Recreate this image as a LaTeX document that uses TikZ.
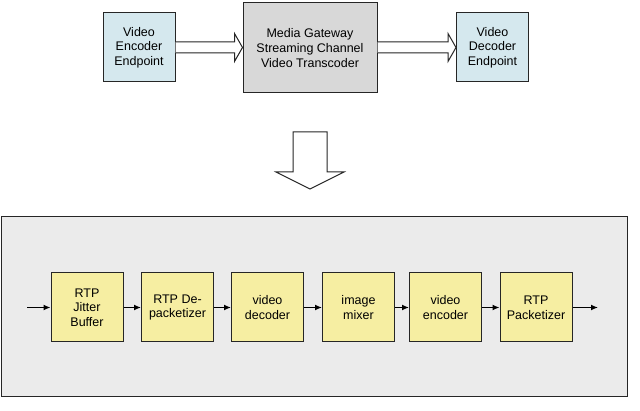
\documentclass[tikz,border=0pt]{standalone}
\usepackage{fontspec}
\setmainfont{Liberation Sans}
\usetikzlibrary{arrows.meta,calc}
\definecolor{boxblue}{HTML}{D5E8EE}
\definecolor{boxgray}{HTML}{D8D8D8}
\definecolor{boxyellow}{HTML}{F6EEA2}
\definecolor{panelgray}{HTML}{EBEBEB}
\tikzset{
  endbox/.style={draw=black!85, line width=1pt, fill=boxblue, minimum width=72pt, minimum height=69pt, inner sep=0pt, align=center, font=\fontsize{12.5}{14.7}\selectfont},
  gwbox/.style={draw=black!85, line width=1pt, fill=boxgray, minimum width=134pt, minimum height=90pt, inner sep=0pt, align=center, font=\fontsize{12.5}{14.7}\selectfont},
  stagebox/.style={draw=black!85, line width=1pt, fill=boxyellow, minimum width=72pt, minimum height=69pt, inner sep=0pt, align=center, font=\fontsize{12.5}{14.7}\selectfont},
  hollow/.style={draw=black!85, line width=1pt, fill=white, line join=miter},
  flow/.style={draw=black, line width=1.3pt, -{Latex[length=7pt,width=6pt]}},
}
\begin{document}
\begin{tikzpicture}[x=1pt,y=-1pt]
\useasboundingbox (0,0) rectangle (640,411);
% top row
\node[endbox] (enc) at (139,47.5) {Video\\Encoder\\Endpoint};
\node[gwbox] (gw) at (310,48) {Media Gateway\\Streaming Channel\\Video Transcoder};
\node[endbox] (dec) at (492.5,47.5) {Video\\Decoder\\Endpoint};
% hollow arrows
\draw[hollow] ($(enc.east)+(0,-5.5)$) -- ($(gw.west|-enc.east)+(-8,-5.5)$) -- ($(gw.west|-enc.east)+(-8,-14)$)
  -- (gw.west|-enc.east) -- ($(gw.west|-enc.east)+(-8,14)$) -- ($(gw.west|-enc.east)+(-8,5.5)$) -- ($(enc.east)+(0,5.5)$);
\draw[hollow] ($(gw.east|-dec.west)+(0,-5.5)$) -- ($(dec.west)+(-8,-5.5)$) -- ($(dec.west)+(-8,-14)$)
  -- (dec.west) -- ($(dec.west)+(-8,14)$) -- ($(dec.west)+(-8,5.5)$) -- ($(gw.east|-dec.west)+(0,5.5)$);
% down arrow
\coordinate (dtop) at (310,132);
\draw[hollow] ($(dtop)+(-17,0)$) -- ($(dtop)+(17,0)$) -- ($(dtop)+(17,40)$) -- ($(dtop)+(34,40)$)
  -- ($(dtop)+(0,57)$) -- ($(dtop)+(-34,40)$) -- ($(dtop)+(-17,40)$) -- cycle;
% panel
\node[draw=black!85, line width=1pt, fill=panelgray, minimum width=626pt, minimum height=180pt, inner sep=0pt] (panel) at (314,307) {};
% stages
\node[stagebox] (s1) at (87,307.5) {RTP\\Jitter\\Buffer};
\node[stagebox] (s2) at (177.5,307.5) {RTP De-\\packetizer};
\node[stagebox] (s3) at (267.5,307.5) {video\\decoder};
\node[stagebox] (s4) at (358.5,307.5) {image\\mixer};
\node[stagebox] (s5) at (445.5,307.5) {video\\encoder};
\node[stagebox] (s6) at (536,307.5) {RTP\\Packetizer};
\coordinate (in) at (27,307.5);
\coordinate (out) at (598,307.5);
\draw[flow] (in) -- (s1);
\draw[flow] (s1) -- (s2);
\draw[flow] (s2) -- (s3);
\draw[flow] (s3) -- (s4);
\draw[flow] (s4) -- (s5);
\draw[flow] (s5) -- (s6);
\draw[flow] (s6) -- (out);
\end{tikzpicture}
\end{document}
